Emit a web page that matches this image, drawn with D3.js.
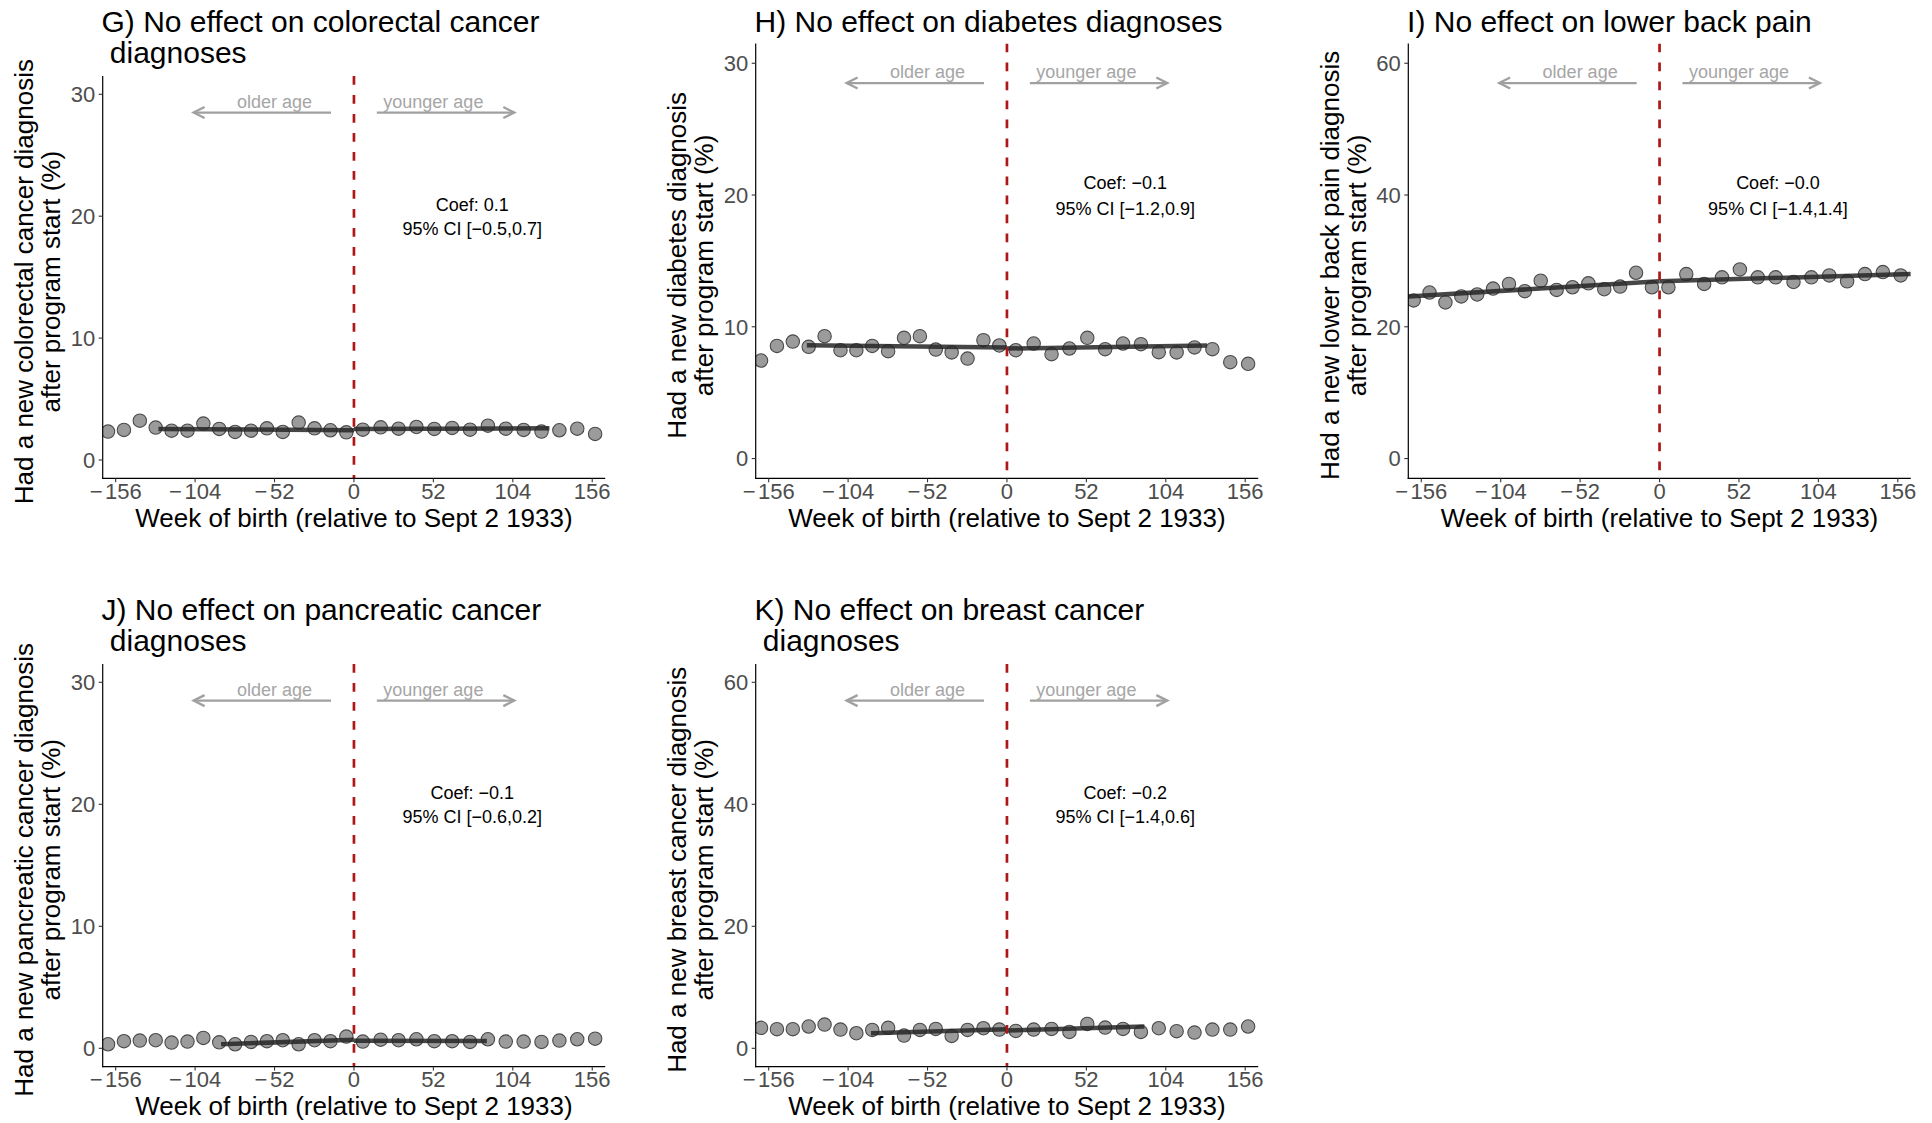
<!DOCTYPE html>
<html><head><meta charset="utf-8">
<script src="https://cdn.jsdelivr.net/npm/d3@7"></script>
<style>
body{margin:0;background:#fff}
text{font-family:"Liberation Sans",Arial,Helvetica,sans-serif}
</style>
</head><body>
<svg id="chart" width="1932" height="1123" xmlns="http://www.w3.org/2000/svg"></svg>
<script>
// ---- data ----
const weeks = [-161.0, -150.6, -140.2, -129.8, -119.4, -109.0, -98.6, -88.2, -77.8, -67.4, -57.0, -46.6, -36.2, -25.8, -15.4, -5.0,
               5.8, 17.5, 29.2, 40.9, 52.6, 64.3, 76.0, 87.7, 99.4, 111.1, 122.8, 134.5, 146.2, 157.9];
const colorectal = [2.33, 2.47, 3.23, 2.66, 2.41, 2.41, 2.99, 2.55, 2.30, 2.41, 2.60, 2.30, 3.07, 2.60, 2.44, 2.27,
                    2.49, 2.68, 2.57, 2.71, 2.55, 2.63, 2.49, 2.82, 2.57, 2.47, 2.33, 2.44, 2.57, 2.14];
const diabetes = [7.44, 8.55, 8.88, 8.48, 9.29, 8.22, 8.22, 8.55, 8.15, 9.16, 9.29, 8.27, 8.05, 7.59, 8.98, 8.58,
                  8.22, 8.73, 7.92, 8.35, 9.16, 8.30, 8.73, 8.68, 8.07, 8.05, 8.43, 8.30, 7.31, 7.19];
const backPain = [24.0, 25.2, 23.7, 24.6, 24.9, 25.8, 26.5, 25.4, 27.0, 25.6, 26.0, 26.6, 25.7, 26.1, 28.2, 26.0,
                  26.0, 28.0, 26.5, 27.5, 28.7, 27.5, 27.5, 26.8, 27.5, 27.8, 26.9, 28.0, 28.3, 27.8];
const pancreatic = [0.33, 0.58, 0.63, 0.66, 0.47, 0.55, 0.85, 0.49, 0.33, 0.52, 0.58, 0.66, 0.33, 0.66, 0.58, 0.96,
                    0.55, 0.71, 0.66, 0.74, 0.58, 0.58, 0.52, 0.74, 0.55, 0.55, 0.52, 0.63, 0.74, 0.79];
const breast = [3.35, 3.13, 3.13, 3.57, 3.89, 3.07, 2.47, 3.02, 3.35, 2.09, 3.02, 3.18, 2.03, 3.02, 3.29, 3.07,
                2.85, 3.07, 3.18, 2.69, 4.00, 3.40, 3.18, 2.69, 3.29, 2.80, 2.58, 3.07, 3.07, 3.57];

// fitted local-linear lines [week, value], left and right of cutoff
const fitColorectalLeft = [[-128, 2.55], [0, 2.44]];
const fitColorectalRight = [[0, 2.55], [128, 2.60]];
const fitDiabetesLeft = [[-131, 8.60], [0, 8.43]];
const fitDiabetesRight = [[0, 8.35], [131, 8.58]];
const fitBackPainLeft = [[-164.5, 24.6], [0, 26.9]];
const fitBackPainRight = [[0, 26.9], [164.5, 28.0]];
const fitPancreaticLeft = [[-87, 0.33], [0, 0.71]];
const fitPancreaticRight = [[0, 0.61], [87, 0.60]];
const fitBreastLeft = [[-89, 2.47], [0, 3.13]];
const fitBreastRight = [[0, 2.91], [90, 3.57]];

const xTicks = [-156, -104, -52, 0, 52, 104, 156];
const yTicks30 = [0, 10, 20, 30];
const yTicks60 = [0, 20, 40, 60];

const titles = [
  ["G) No effect on colorectal cancer", " diagnoses"],
  ["H) No effect on diabetes diagnoses"],
  ["I) No effect on lower back pain"],
  ["J) No effect on pancreatic cancer", " diagnoses"],
  ["K) No effect on breast cancer", " diagnoses"]
];
const yLabels = [
  ["Had a new colorectal cancer diagnosis", "after program start (%)"],
  ["Had a new diabetes diagnosis", "after program start (%)"],
  ["Had a new lower back pain diagnosis", "after program start (%)"],
  ["Had a new pancreatic cancer diagnosis", "after program start (%)"],
  ["Had a new breast cancer diagnosis", "after program start (%)"]
];
const xLabel = "Week of birth (relative to Sept 2 1933)";
const coefLabels = ["Coef: 0.1", "Coef: \u22120.1", "Coef: \u22120.0", "Coef: \u22120.1", "Coef: \u22120.2"];
const ciLabels = ["95% CI [\u22120.5,0.7]", "95% CI [\u22121.2,0.9]", "95% CI [\u22121.4,1.4]", "95% CI [\u22120.6,0.2]", "95% CI [\u22121.4,0.6]"];
const arrowLabels = ["older age", "younger age"];
const yMax = [30, 30, 60, 30, 60];

// ---- layout ----
const panelLeft = [102.7, 755.7, 1408.3, 102.7, 755.7];
const panelTop = [76, 43.5, 43.5, 664, 664];
const panelBottom = [478.3, 478.3, 478.3, 1066.6, 1066.6];
const titleBaseline = [31.7, 31.7, 31.7, 619.7, 619.7];
const panelWidth = 502.5;

const series = [colorectal, diabetes, backPain, pancreatic, breast];
const fits = [
  [fitColorectalLeft, fitColorectalRight],
  [fitDiabetesLeft, fitDiabetesRight],
  [fitBackPainLeft, fitBackPainRight],
  [fitPancreaticLeft, fitPancreaticRight],
  [fitBreastLeft, fitBreastRight]
];

const svg = d3.select("#chart");
svg.append("rect").attr("width", 1932).attr("height", 1123).attr("fill", "#fff");
const defs = svg.append("defs");

// tick label with a slightly separated minus sign
function tickText(sel, d) {
  if (d < 0) {
    sel.append("tspan").text("\u2212");
    sel.append("tspan").attr("dx", 2.5).text(String(Math.abs(d)));
  } else {
    sel.text(String(d));
  }
}

series.forEach((vals, i) => {
  const L = panelLeft[i], T = panelTop[i], B = panelBottom[i], R = L + panelWidth;
  const m = yMax[i];
  const s = m / 30;
  const x = d3.scaleLinear().domain([-164.5, 164.5]).range([L, R]);
  const y = d3.scaleLinear().domain([-0.05 * m, 1.05 * m]).range([B, T]);
  const g = svg.append("g");

  defs.append("clipPath").attr("id", "clip" + i)
    .append("rect").attr("x", L).attr("y", T).attr("width", panelWidth).attr("height", B - T);
  const inner = g.append("g").attr("clip-path", `url(#clip${i})`);

  // points
  inner.selectAll("circle").data(weeks.map((w, k) => [w, vals[k]])).join("circle")
    .attr("cx", d => x(d[0])).attr("cy", d => y(d[1])).attr("r", 6.7)
    .attr("fill", "#9b9b9b").attr("stroke", "#4a4a4a").attr("stroke-width", 1.1);

  // fitted lines
  const line = d3.line().x(d => x(d[0])).y(d => y(d[1]));
  fits[i].forEach(seg => {
    inner.append("path").attr("d", line(seg)).attr("fill", "none")
      .attr("stroke", "#262626").attr("stroke-opacity", 0.85).attr("stroke-width", 4.5);
  });

  // cutoff line
  inner.append("line").attr("x1", x(0)).attr("x2", x(0)).attr("y1", T).attr("y2", B)
    .attr("stroke", "#ad1717").attr("stroke-width", 2.7).attr("stroke-dasharray", "8.7,10.3");

  // arrows
  const ay = y(28.5 * s);
  const arrowColor = "#a0a0a0";
  [[-15, -105], [15, 105]].forEach(([a, b]) => {
    g.append("line").attr("x1", x(a)).attr("x2", x(b)).attr("y1", ay).attr("y2", ay)
      .attr("stroke", arrowColor).attr("stroke-width", 2.3);
    const tip = x(b), dir = b < 0 ? 1 : -1;
    g.append("path")
      .attr("d", `M${tip + dir * 11},${ay - 5.5}L${tip},${ay}L${tip + dir * 11},${ay + 5.5}`)
      .attr("fill", "none").attr("stroke", arrowColor).attr("stroke-width", 2.3)
      .attr("stroke-linejoin", "miter");
  });
  g.append("text").attr("x", x(-52)).attr("y", y(28.9 * s)).attr("text-anchor", "middle")
    .attr("font-size", 18).attr("fill", "#a6a6a6").text(arrowLabels[0]);
  g.append("text").attr("x", x(52)).attr("y", y(28.9 * s)).attr("text-anchor", "middle")
    .attr("font-size", 18).attr("fill", "#a6a6a6").text(arrowLabels[1]);

  // coefficient labels
  g.append("text").attr("x", x(77.5)).attr("y", y(20.45 * s)).attr("text-anchor", "middle")
    .attr("font-size", 18).attr("fill", "#000").text(coefLabels[i]);
  g.append("text").attr("x", x(77.5)).attr("y", y(18.45 * s)).attr("text-anchor", "middle")
    .attr("font-size", 18).attr("fill", "#000").text(ciLabels[i]);

  // axes
  g.append("line").attr("x1", L).attr("x2", L).attr("y1", T).attr("y2", B + 0.6)
    .attr("stroke", "#000").attr("stroke-width", 1.2);
  g.append("line").attr("x1", L - 0.6).attr("x2", R).attr("y1", B).attr("y2", B)
    .attr("stroke", "#000").attr("stroke-width", 1.2);

  const yt = m === 60 ? yTicks60 : yTicks30;
  yt.forEach(t => {
    g.append("line").attr("x1", L - 4).attr("x2", L).attr("y1", y(t)).attr("y2", y(t))
      .attr("stroke", "#333").attr("stroke-width", 1.1);
    g.append("text").attr("x", L - 7.5).attr("y", y(t)).attr("dy", "0.36em")
      .attr("text-anchor", "end").attr("font-size", 22).attr("fill", "#4d4d4d").text(String(t));
  });
  xTicks.forEach(t => {
    g.append("line").attr("x1", x(t)).attr("x2", x(t)).attr("y1", B).attr("y2", B + 4)
      .attr("stroke", "#333").attr("stroke-width", 1.1);
    const lab = g.append("text").attr("x", x(t)).attr("y", B + 20.7).attr("text-anchor", "middle")
      .attr("font-size", 22).attr("fill", "#4d4d4d");
    tickText(lab, t);
  });

  // axis titles
  g.append("text").attr("x", (L + R) / 2).attr("y", B + 48.6).attr("text-anchor", "middle")
    .attr("font-size", 26).attr("fill", "#000").text(xLabel);
  const cy = (T + B) / 2 + 4.5;
  yLabels[i].forEach((lab, k) => {
    g.append("text").attr("transform", `translate(${L - 69.7 + k * 27},${cy}) rotate(-90)`)
      .attr("text-anchor", "middle").attr("font-size", 26).attr("fill", "#000").text(lab);
  });

  // title
  titles[i].forEach((lab, k) => {
    g.append("text").attr("x", L - 1.2).attr("y", titleBaseline[i] + k * 31.6)
      .attr("font-size", 30).attr("fill", "#000").style("white-space", "pre").text(lab);
  });
});
</script>
</body></html>
